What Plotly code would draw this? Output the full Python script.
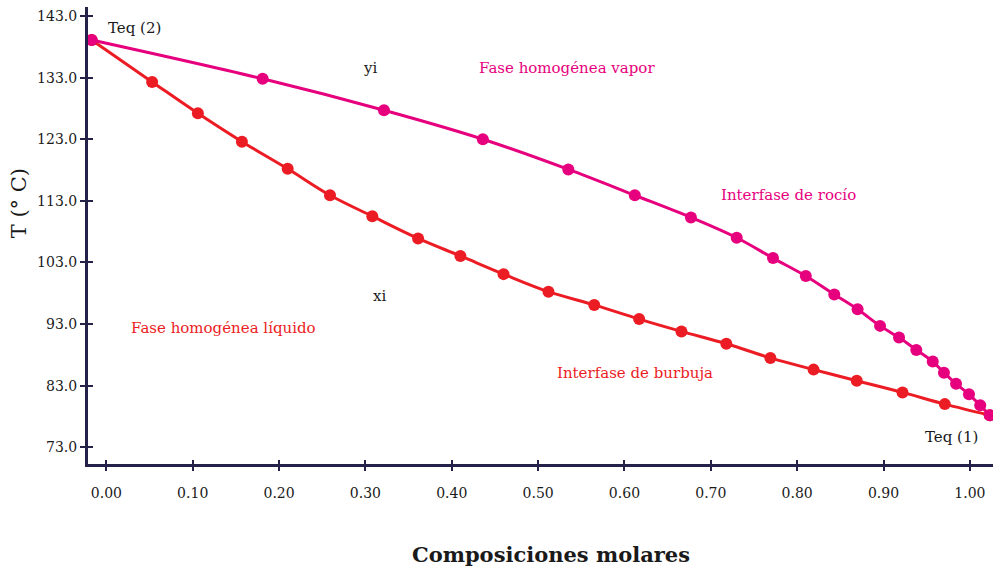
import plotly.graph_objects as go

# Bubble curve (liquid composition xi)
xi = [-0.017, 0.053, 0.106, 0.157, 0.210, 0.259, 0.308, 0.361, 0.410, 0.460, 0.512,
      0.565, 0.617, 0.666, 0.718, 0.769, 0.819, 0.869, 0.922, 0.971, 1.023]
T_bubble = [139.1, 132.3, 127.2, 122.6, 118.2, 113.9, 110.5, 106.9, 104.05, 101.1, 98.25,
            96.1, 93.8, 91.8, 89.8, 87.5, 85.6, 83.8, 81.9, 80.0, 78.2]

# Dew curve (vapour composition yi)
yi = [-0.017, 0.181, 0.3215, 0.436, 0.535, 0.612, 0.677, 0.730, 0.772, 0.810, 0.843,
      0.870, 0.896, 0.918, 0.938, 0.957, 0.970, 0.984, 0.999, 1.012, 1.023]
T_dew = [139.1, 132.8, 127.7, 123.0, 118.1, 113.9, 110.3, 107.0, 103.7, 100.8, 97.8,
         95.4, 92.7, 90.8, 88.8, 86.9, 85.1, 83.3, 81.6, 79.8, 78.2]

x_ticks = [0.0, 0.1, 0.2, 0.3, 0.4, 0.5, 0.6, 0.7, 0.8, 0.9, 1.0]
y_ticks = [73.0, 83.0, 93.0, 103.0, 113.0, 123.0, 133.0, 143.0]

RED = "#ec1c24"
PINK = "#e6007e"
AXIS = "#25224a"
TXT = "#1a1a1a"
FONT = "DejaVu Serif"

XR = [-0.02125, 1.0268]
YR = [70.28, 144.46]

fig = go.Figure()
fig.add_trace(go.Scatter(x=xi, y=T_bubble, mode="lines+markers",
                         line=dict(color=RED, width=3, shape="spline"),
                         marker=dict(color=RED, size=12), cliponaxis=False,
                         showlegend=False, hoverinfo="x+y"))
fig.add_trace(go.Scatter(x=yi, y=T_dew, mode="lines+markers",
                         line=dict(color=PINK, width=3, shape="spline"),
                         marker=dict(color=PINK, size=12), cliponaxis=False,
                         showlegend=False, hoverinfo="x+y"))
# empty trace to draw the inner half of crossing ticks
fig.add_trace(go.Scatter(x=[], y=[], xaxis="x2", yaxis="y2", showlegend=False))

axis_common = dict(showgrid=False, zeroline=False, showline=True, linecolor=AXIS,
                   linewidth=3, tickcolor=AXIS, tickwidth=2, automargin=False,
                   ticklabeloverflow="allow",
                   tickfont=dict(family=FONT, size=14, color=TXT))

fig.update_layout(
    width=993, height=572,
    margin=dict(l=88, r=0, t=7, b=108),
    paper_bgcolor="white", plot_bgcolor="white",
    font=dict(family=FONT, color=TXT),
    xaxis=dict(range=XR, tickvals=x_ticks, tickformat=".2f", ticks="outside", ticklen=4,
               ticklabelstandoff=10, **axis_common),
    yaxis=dict(range=YR, tickvals=y_ticks, tickformat=".1f", ticks="outside", ticklen=5,
               **axis_common),
    xaxis2=dict(range=XR, overlaying="x", anchor="y2", side="bottom", tickvals=x_ticks,
                ticks="inside", ticklen=4, tickwidth=2, tickcolor=AXIS, automargin=False,
                showticklabels=False, showgrid=False, zeroline=False, showline=False),
    yaxis2=dict(range=YR, overlaying="y", anchor="x2", side="left", tickvals=y_ticks,
                ticks="inside", ticklen=5, tickwidth=2, tickcolor=AXIS, automargin=False,
                showticklabels=False, showgrid=False, zeroline=False, showline=False),
)

# axis titles
fig.add_annotation(xref="paper", yref="paper", x=-0.076, y=0.571, text="T (° C)",
                   textangle=-90, showarrow=False, xanchor="center", yanchor="middle",
                   font=dict(family=FONT, size=21, color=TXT))
fig.add_annotation(xref="paper", yref="paper", x=0.5116, y=-0.199,
                   text="<b>Composiciones molares</b>", showarrow=False,
                   xanchor="center", yanchor="middle",
                   font=dict(family=FONT, size=21, color=TXT))

notes = [
    ("Teq (2)", 0.0, 141.0, TXT, "left"),
    ("yi", 0.305, 134.6, TXT, "center"),
    ("Fase homogénea vapor", 0.429, 134.6, PINK, "left"),
    ("Interfase de rocío", 0.710, 113.9, PINK, "left"),
    ("xi", 0.316, 97.5, TXT, "center"),
    ("Fase homogénea líquido", 0.026, 92.3, RED, "left"),
    ("Interfase de burbuja", 0.520, 85.0, RED, "left"),
    ("Teq (1)", 0.946, 74.6, TXT, "left"),
]
for text, x, y, col, anchor in notes:
    fig.add_annotation(x=x, y=y, text=text, showarrow=False, xanchor=anchor,
                       yanchor="middle", font=dict(family=FONT, size=15, color=col))

fig.write_html(
    "out.html",
    config={"displayModeBar": False},
    post_script=("document.body.style.margin='0';"
                 "document.body.style.overflow='hidden';"
                 "document.documentElement.style.overflow='hidden';"),
)
